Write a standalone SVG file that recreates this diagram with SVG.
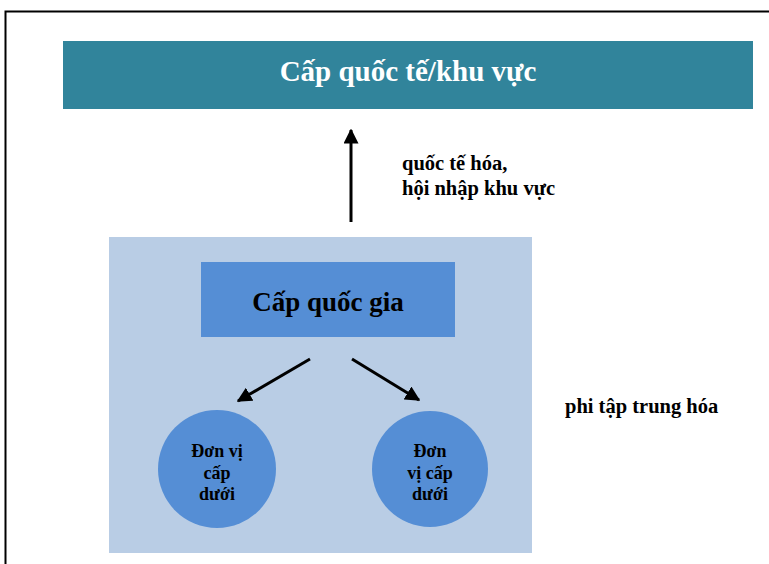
<svg xmlns="http://www.w3.org/2000/svg" width="769" height="564" viewBox="0 0 769 564">
<style>
.t{font-family:"Liberation Serif","Times New Roman",serif;font-weight:bold;fill:#000}
.c{text-anchor:middle}
.lbl{font-size:20.5px}
.cir{font-size:18px}
.conn{stroke:#000;stroke-width:3;fill:none}
</style>
<defs>
<marker id="ah" viewBox="0 0 10 10" refX="9" refY="5" markerWidth="5" markerHeight="5" orient="auto" markerUnits="strokeWidth">
<path d="M0,0 L10,5 L0,10 z" fill="#000"/>
</marker>
</defs>
<rect x="0" y="0" width="769" height="564" fill="#fff"/>
<rect x="5.5" y="11.5" width="780" height="580" fill="none" stroke="#000" stroke-width="2"/>
<g id="international">
<rect x="63" y="41" width="690" height="68" fill="#31849B"/>
<text class="t c" x="408" y="81" font-size="29" style="fill:#fff">Cấp quốc tế/khu vực</text>
</g>
<g id="national-area">
<rect x="109" y="237" width="423" height="316" fill="#B9CDE5"/>
</g>
<g id="national">
<rect x="201" y="262" width="254" height="75" fill="#558ED5"/>
<text class="t c" x="328" y="311" font-size="27">Cấp quốc gia</text>
</g>
<g id="sub1">
<circle cx="217" cy="469" r="59" fill="#558ED5"/>
<text class="t c cir" x="217" y="457">Đơn vị</text>
<text class="t c cir" x="217" y="479">cấp</text>
<text class="t c cir" x="217" y="500">dưới</text>
</g>
<g id="sub2">
<circle cx="430" cy="469" r="58" fill="#558ED5"/>
<text class="t c cir" x="430" y="457">Đơn</text>
<text class="t c cir" x="430" y="479">vị cấp</text>
<text class="t c cir" x="430" y="500">dưới</text>
</g>
<g id="label-intl">
<text class="t lbl" x="402" y="170">quốc tế hóa,</text>
<text class="t lbl" x="402" y="195">hội nhập khu vực</text>
</g>
<g id="label-decentral">
<text class="t lbl" x="565" y="413">phi tập trung hóa</text>
</g>
<g id="connectors">
<line class="conn" x1="351" y1="222" x2="351" y2="130" marker-end="url(#ah)"/>
<line class="conn" x1="310" y1="359" x2="238" y2="401" marker-end="url(#ah)"/>
<line class="conn" x1="352" y1="359" x2="419" y2="400" marker-end="url(#ah)"/>
</g>
</svg>
